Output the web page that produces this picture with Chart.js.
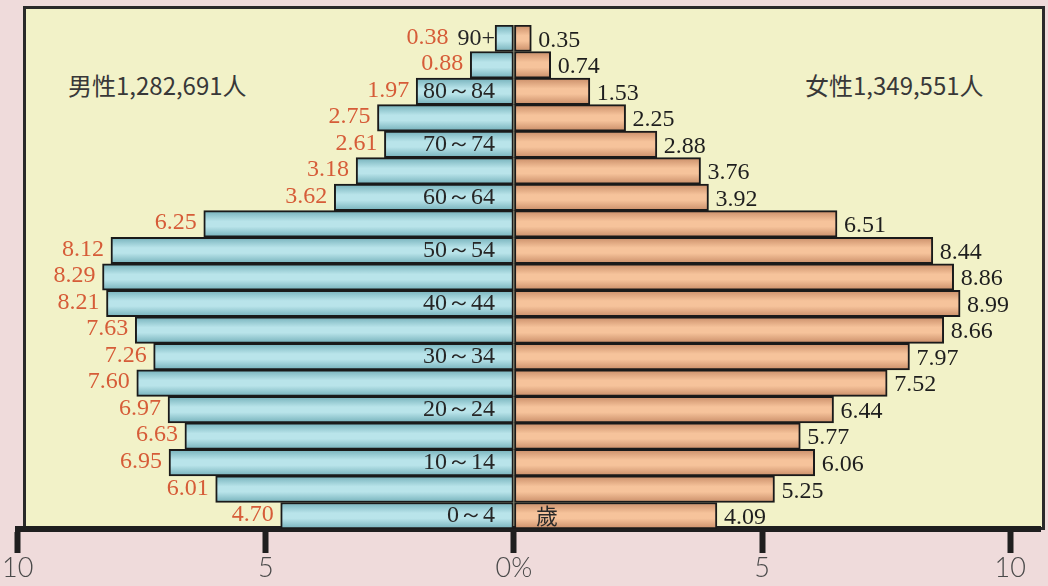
<!DOCTYPE html>
<html><head><meta charset="utf-8">
<script src="https://cdn.jsdelivr.net/npm/chart.js@4"></script>
<style>
html,body{margin:0;padding:0;background:#efdbdb;}
#wrap{position:relative;width:1048px;height:586px;overflow:hidden;background:#efdbdb;}
#frame{position:absolute;left:23px;top:6px;width:1016px;height:518px;border:3px solid #2a2a2a;background:#f2f2c8;}
canvas{position:absolute;left:0;top:0;}
.side{position:absolute;top:70px;line-height:30px;font-size:24px;font-family:"Noto Sans CJK TC","Noto Sans";color:#383838;white-space:nowrap;}
</style></head>
<body>
<div id="wrap">
  <div id="frame"></div>
  <div class="side" id="maleTitle" style="left:68px"></div>
  <div class="side" id="femaleTitle" style="left:805px"></div>
  <canvas id="c" width="1048" height="586"></canvas>
</div>
<script>
// Age groups from youngest (bottom) to oldest (top)
const ageGroups = ['0～4','5～9','10～14','15～19','20～24','25～29','30～34','35～39','40～44','45～49','50～54','55～59','60～64','65～69','70～74','75～79','80～84','85～89','90+'];
const ageLabels = ['0～4','','10～14','','20～24','','30～34','','40～44','','50～54','','60～64','','70～74','','80～84','','90+'];
const malePct   = [4.70,6.01,6.95,6.63,6.97,7.60,7.26,7.63,8.21,8.29,8.12,6.25,3.62,3.18,2.61,2.75,1.97,0.88,0.38];
const femalePct = [4.09,5.25,6.06,5.77,6.44,7.52,7.97,8.66,8.99,8.86,8.44,6.51,3.92,3.76,2.88,2.25,1.53,0.74,0.35];
const tickValues = [-10,-5,0,5,10];
const maleTitle = '男性1,282,691人';
const femaleTitle = '女性1,349,551人';
const ageUnit = '歲';

document.getElementById('maleTitle').textContent = maleTitle;
document.getElementById('femaleTitle').textContent = femaleTitle;

// tube-like shading repeated for every age band
function bandShade(edge, light) {
  return (context) => {
    const chart = context.chart;
    const area = chart.chartArea;
    if (!area) return light;
    const n = chart.data.labels.length;
    const g = chart.ctx.createLinearGradient(0, area.top, 0, area.bottom);
    for (let k = 0; k < n; k++) {
      g.addColorStop(k / n, edge);
      g.addColorStop((k + 0.4) / n, light);
      g.addColorStop((k + 0.6) / n, light);
      g.addColorStop(Math.min(1, (k + 0.999) / n), edge);
    }
    return g;
  };
}

const labelPlugin = {
  id: 'barLabels',
  afterDatasetsDraw(chart) {
    const ctx = chart.ctx;
    const x0 = chart.scales.x.getPixelForValue(0);
    const ageRight = x0 - 19;
    ctx.save();
    ctx.textBaseline = 'middle';
    ctx.font = '24px "Liberation Serif", serif';
    ctx.fillStyle = '#262626';
    ctx.textAlign = 'right';
    chart.getDatasetMeta(0).data.forEach((bar, i) => {
      if (ageLabels[i]) ctx.fillText(ageLabels[i], ageRight, bar.y);
    });
    chart.getDatasetMeta(0).data.forEach((bar, i) => {
      let xr = bar.x - 7;
      if (ageLabels[i]) {
        const ageLeft = ageRight - ctx.measureText(ageLabels[i]).width;
        if (xr > ageLeft - 8) xr = ageLeft - 9;
      }
      ctx.fillStyle = '#d65c38';
      ctx.textAlign = 'right';
      ctx.fillText(malePct[i].toFixed(2), xr, bar.y - 1);
    });
    chart.getDatasetMeta(1).data.forEach((bar, i) => {
      ctx.fillStyle = '#1e1e1e';
      ctx.textAlign = 'left';
      ctx.fillText(femalePct[i].toFixed(2), bar.x + 7, bar.y + 2);
    });
    const b0 = chart.getDatasetMeta(1).data[0];
    ctx.textAlign = 'left';
    ctx.fillStyle = '#2a2a2a';
    ctx.font = '22px "Noto Sans CJK TC", serif';
    ctx.fillText(ageUnit, x0 + 22, b0.y);
    ctx.restore();
  }
};

new Chart(document.getElementById('c'), {
  type: 'bar',
  data: {
    labels: ageGroups,
    datasets: [
      { label: '男性', data: malePct.map(v => -v), backgroundColor: bandShade('#74b0ba', '#b9e4ea'), borderColor: '#1a1a1a', borderWidth: 2, borderSkipped: false, barPercentage: 1, categoryPercentage: 1 },
      { label: '女性', data: femalePct, backgroundColor: bandShade('#c98d68', '#f6c39b'), borderColor: '#1a1a1a', borderWidth: 2, borderSkipped: false, barPercentage: 1, categoryPercentage: 1 }
    ]
  },
  options: {
    indexAxis: 'y',
    responsive: false,
    animation: false,
    layout: { padding: { top: 25, left: 16, right: 8, bottom: 2 } },
    plugins: { legend: { display: false }, tooltip: { enabled: false } },
    scales: {
      x: {
        min: -10, max: 10.6, stacked: true,
        afterBuildTicks: ax => { ax.ticks = tickValues.map(v => ({ value: v })); },
        grid: { drawOnChartArea: false, drawTicks: true, tickLength: 24, tickWidth: 6, tickColor: '#1f1f1f', color: '#1f1f1f' },
        border: { display: true, width: 6, color: '#1f1f1f' },
        ticks: {
          callback: v => v === 0 ? '0%' : String(Math.abs(v)),
          color: '#4a4a4a',
          font: { family: 'Lato, "Noto Sans", sans-serif', size: 27, weight: 300, lineHeight: 1 },
          padding: 2, maxRotation: 0, autoSkip: false
        }
      },
      y: { display: false, stacked: true, reverse: true }
    }
  },
  plugins: [labelPlugin]
});
</script>
</body></html>
